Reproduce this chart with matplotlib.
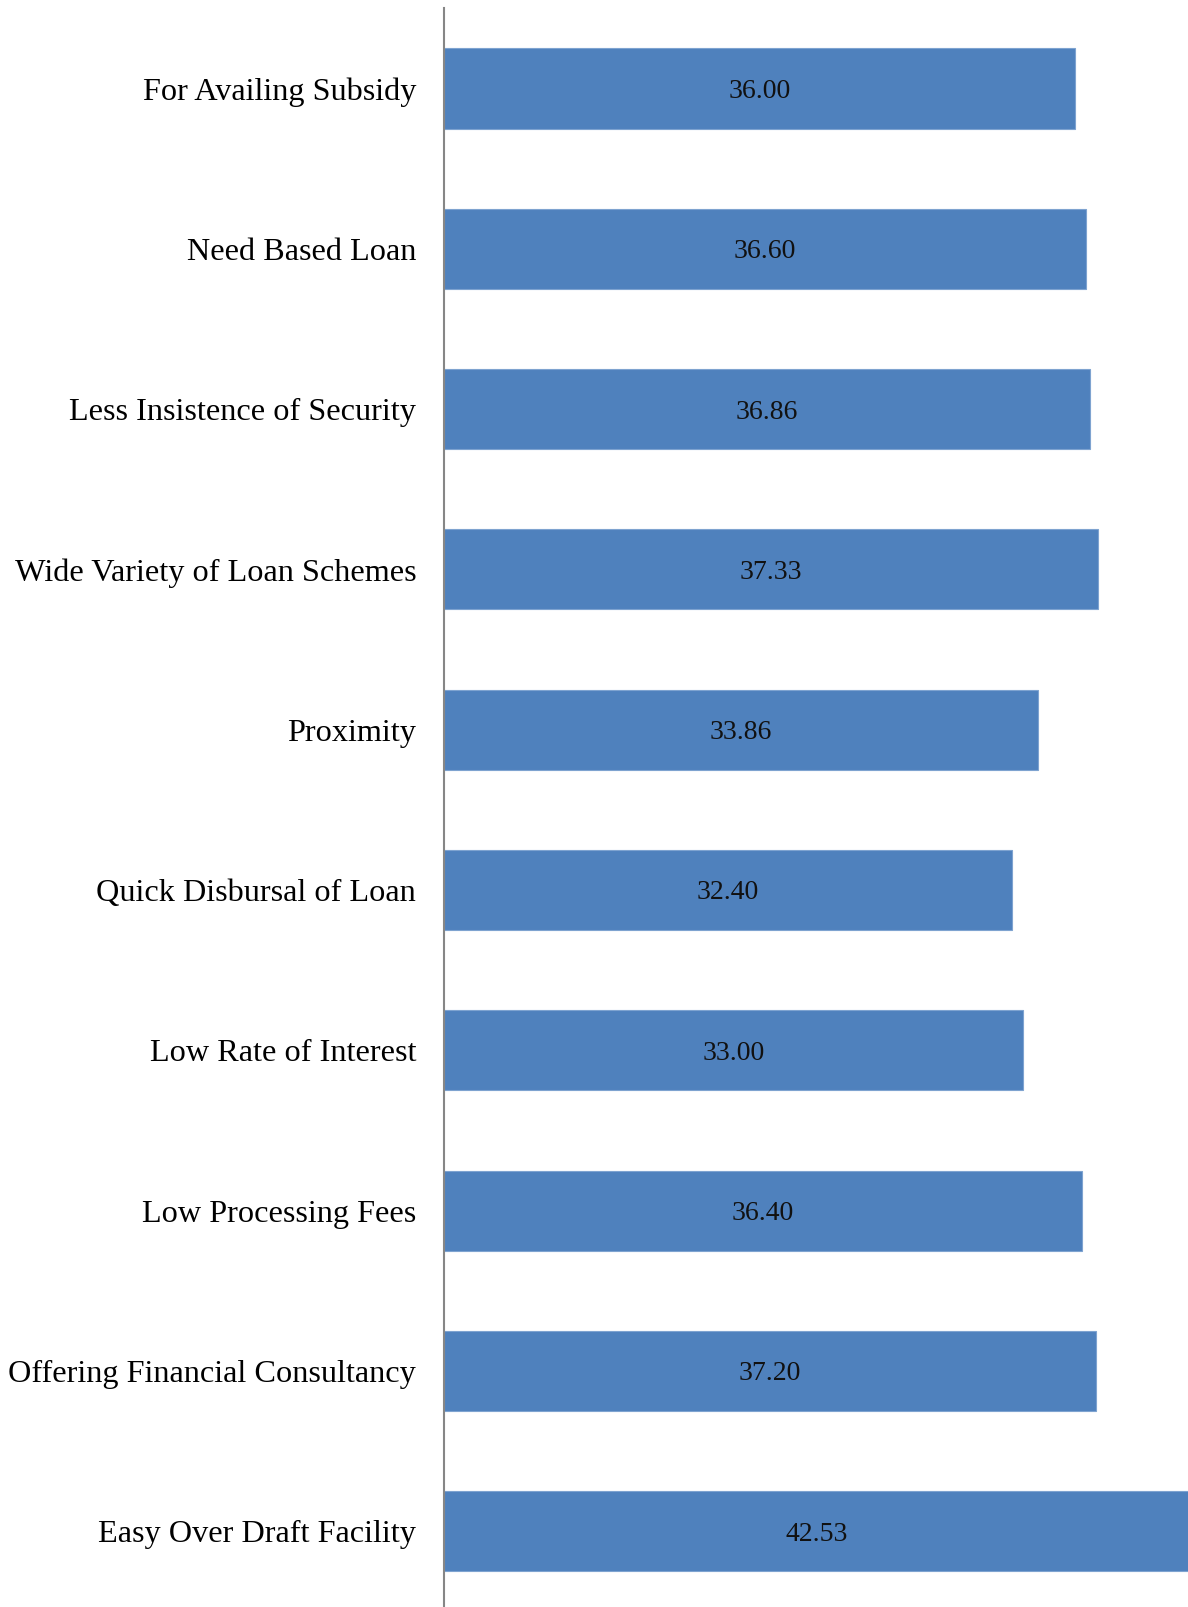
import matplotlib.pyplot as plt

# categories listed bottom to top, as the bars are stacked
factors = [
    "Easy Over Draft Facility",
    "Offering Financial Consultancy",
    "Low Processing Fees",
    "Low Rate of Interest",
    "Quick Disbursal of Loan",
    "Proximity",
    "Wide Variety of Loan Schemes",
    "Less Insistence of Security",
    "Need Based Loan",
    "For Availing Subsidy",
]
scores = [42.53, 37.20, 36.40, 33.00, 32.40, 33.86, 37.33, 36.86, 36.60, 36.00]

plt.rcParams["font.family"] = ["Liberation Serif", "DejaVu Serif"]

fig = plt.figure(figsize=(11.88, 16.07), dpi=100)
ax = fig.add_axes([0.3737, -0.0027, 0.6263, 0.9975])

pos = list(range(len(factors)))
ax.barh(pos, scores, height=0.5, color="#4F81BD", edgecolor="#7EA3D0", linewidth=0.8)

for y, v in zip(pos, scores):
    ax.text(v / 2, y, f"{v:.2f}", ha="center", va="center_baseline",
            fontsize=20, color="#111111")

ax.set_xlim(0, 42.44)
ax.set_ylim(-0.5, len(factors) - 0.5)
ax.set_yticks(pos)
ax.set_yticklabels(factors, fontsize=23.2)
ax.tick_params(axis="y", length=0, pad=20)
ax.set_xticks([])

for side in ["top", "right", "bottom"]:
    ax.spines[side].set_visible(False)
ax.spines["left"].set_color("#868686")
ax.spines["left"].set_linewidth(1.5)
ax.spines["left"].set_zorder(3)

fig.savefig("out.png", dpi=100)
